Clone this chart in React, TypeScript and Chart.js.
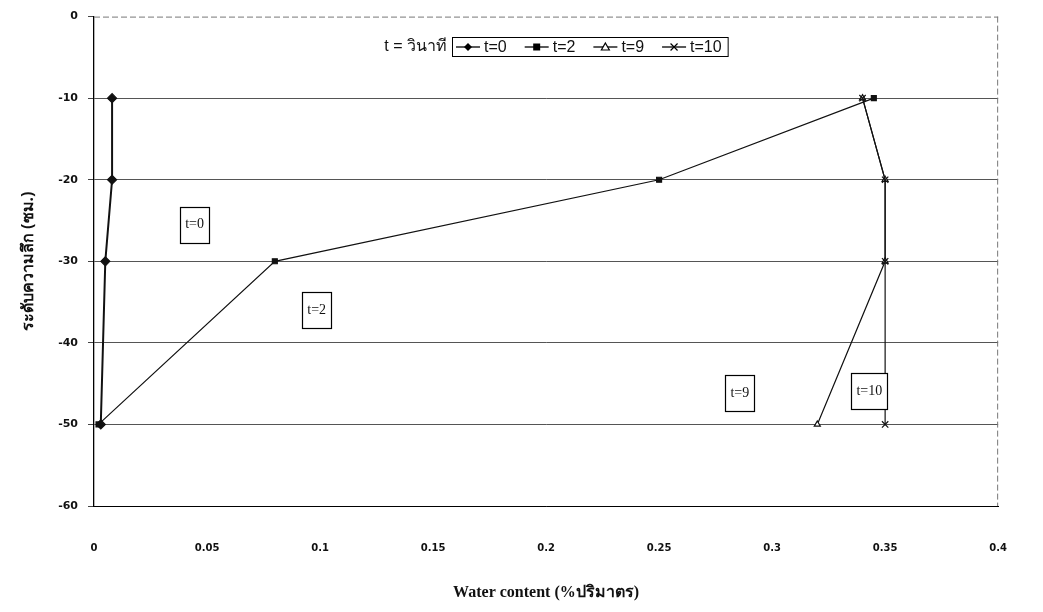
import React, { useEffect, useRef } from "react";
import { Chart, registerables } from "chart.js";

Chart.register(...registerables);

const depths = [-10, -20, -30, -50];
const seriesLabels = ["t=0", "t=2", "t=9", "t=10"];
const t0Values = [0.008, 0.008, 0.005, 0.003];
const t2Values = [0.345, 0.25, 0.08, 0.002];
const t9Values = [0.34, 0.35, 0.35, 0.32];
const t10Values = [0.34, 0.35, 0.35, 0.35];

const xTickValues = [0, 0.05, 0.1, 0.15, 0.2, 0.25, 0.3, 0.35, 0.4];
const yTickValues = [0, -10, -20, -30, -40, -50, -60];

const boxLabels = ["t=0", "t=2", "t=9", "t=10"];
const boxX = [0.0445, 0.0985, 0.2857, 0.343];
const boxY = [-25.5, -36, -46.2, -45.9];

const xTitle = "Water content (%ปริมาตร)";
const yTitle = "ระดับความลึก (ซม.)";
const legendCaption = "t = วินาที";

const pointStyles = ["rectRot", "rect", "triangle", "crossRot"];

function drawMarker(ctx: CanvasRenderingContext2D, style: string, x: number, y: number) {
  ctx.save();
  ctx.strokeStyle = "#000";
  ctx.fillStyle = "#000";
  ctx.lineWidth = 1.2;
  ctx.beginPath();
  if (style === "rectRot") {
    ctx.moveTo(x, y - 4);
    ctx.lineTo(x + 4, y);
    ctx.lineTo(x, y + 4);
    ctx.lineTo(x - 4, y);
    ctx.closePath();
    ctx.fill();
  } else if (style === "rect") {
    ctx.rect(x - 3.5, y - 3.5, 7, 7);
    ctx.fill();
  } else if (style === "triangle") {
    ctx.moveTo(x, y - 4);
    ctx.lineTo(x + 4, y + 3);
    ctx.lineTo(x - 4, y + 3);
    ctx.closePath();
    ctx.fillStyle = "#fff";
    ctx.fill();
    ctx.stroke();
  } else {
    ctx.moveTo(x - 3.5, y - 3.5);
    ctx.lineTo(x + 3.5, y + 3.5);
    ctx.moveTo(x + 3.5, y - 3.5);
    ctx.lineTo(x - 3.5, y + 3.5);
    ctx.stroke();
  }
  ctx.restore();
}

const decorPlugin = {
  id: "decor",
  beforeDatasetsDraw(chart: any) {
    const { ctx, chartArea } = chart;
    ctx.save();
    ctx.strokeStyle = "#777";
    ctx.lineWidth = 1;
    ctx.setLineDash([6, 3]);
    ctx.beginPath();
    ctx.moveTo(chartArea.left, chartArea.top + 0.5);
    ctx.lineTo(chartArea.right, chartArea.top + 0.5);
    ctx.moveTo(chartArea.right - 0.5, chartArea.top);
    ctx.lineTo(chartArea.right - 0.5, chartArea.bottom);
    ctx.stroke();
    ctx.restore();
  },
  afterDatasetsDraw(chart: any) {
    const { ctx } = chart;
    const xs = chart.scales.x;
    const ys = chart.scales.y;
    ctx.save();
    // annotation boxes
    ctx.font = "14px 'Liberation Serif', serif";
    ctx.textAlign = "center";
    ctx.textBaseline = "middle";
    boxLabels.forEach((lab, i) => {
      const cx = xs.getPixelForValue(boxX[i]);
      const cy = ys.getPixelForValue(boxY[i]);
      const w = ctx.measureText(lab).width + 10;
      const h = 36;
      ctx.fillStyle = "#fff";
      ctx.fillRect(cx - w / 2, cy - h / 2, w, h);
      ctx.strokeStyle = "#000";
      ctx.lineWidth = 1.2;
      ctx.strokeRect(Math.round(cx - w / 2) + 0.5, Math.round(cy - h / 2) + 0.5, Math.round(w), h);
      ctx.fillStyle = "#111";
      ctx.fillText(lab, cx, cy);
    });

    // legend
    ctx.font = "16px 'Liberation Sans', Arial, sans-serif";
    ctx.textAlign = "left";
    const lx = 452;
    const ly = 37;
    const lh = 19;
    let x = lx + 4;
    const cyL = ly + lh / 2 + 0.5;
    let lastTextEnd = x;
    const items = seriesLabels.map((lab, i) => {
      const start = x;
      const tx = start + 28;
      lastTextEnd = tx + ctx.measureText(lab).width;
      x = lastTextEnd + 18;
      return { start, tx, lab, style: pointStyles[i] };
    });
    const lw = lastTextEnd + 6 - lx;
    ctx.fillStyle = "#fff";
    ctx.fillRect(lx, ly, lw, lh);
    ctx.strokeStyle = "#000";
    ctx.lineWidth = 1;
    ctx.strokeRect(lx + 0.5, ly + 0.5, lw, lh);
    items.forEach((it) => {
      ctx.strokeStyle = "#000";
      ctx.lineWidth = 1.3;
      ctx.beginPath();
      ctx.moveTo(it.start, cyL);
      ctx.lineTo(it.start + 24, cyL);
      ctx.stroke();
      drawMarker(ctx, it.style, it.start + 12, cyL);
      ctx.fillStyle = "#111";
      ctx.textBaseline = "middle";
      ctx.fillText(it.lab, it.tx, cyL + 1);
    });
    ctx.font = "16px 'Liberation Sans', 'Noto Sans', 'DejaVu Sans', sans-serif";
    ctx.textAlign = "right";
    ctx.fillText(legendCaption, lx - 5, cyL);
    ctx.restore();
  },
};

function makeDataset(label: string, values: number[], idx: number, width: number, order: number) {
  return {
    label,
    order,
    data: values.map((v, i) => ({ x: v, y: depths[i] })),
    borderColor: "#111",
    backgroundColor: idx === 2 ? "#fff" : "#111",
    pointBorderColor: "#111",
    pointBackgroundColor: idx === 2 ? "#fff" : "#111",
    borderWidth: width,
    pointStyle: pointStyles[idx],
    pointRadius: idx === 1 ? 3.5 : idx === 2 ? 3.5 : 4.5,
    pointBorderWidth: 1.2,
    showLine: true,
    tension: 0,
  };
}

export default function App() {
  const ref = useRef<HTMLCanvasElement | null>(null);
  useEffect(() => {
    if (!ref.current) return;
    const chart = new Chart(ref.current, {
      type: "scatter",
      data: {
        datasets: [
          makeDataset(seriesLabels[0], t0Values, 0, 2, 4),
          makeDataset(seriesLabels[1], t2Values, 1, 1.2, 3),
          makeDataset(seriesLabels[2], t9Values, 2, 1.2, 2),
          makeDataset(seriesLabels[3], t10Values, 3, 1.2, 1),
        ],
      },
      options: {
        responsive: false,
        animation: false,
        devicePixelRatio: 1,
        layout: { padding: { left: 0, right: 21, top: 11, bottom: 0 } },
        plugins: {
          legend: { display: false },
          tooltip: { enabled: false },
        },
        scales: {
          x: {
            type: "linear",
            min: 0,
            max: 0.4,
            afterBuildTicks: (scale: any) => {
              scale.ticks = xTickValues.map((v) => ({ value: v }));
            },
            afterFit: (scale: any) => {
              scale.height = 106;
            },
            ticks: {
              padding: 36,
              color: "#111",
              font: { family: "'DejaVu Sans', sans-serif", size: 10, weight: "bold" },
              callback: (v: any) => String(Number(Number(v).toFixed(2))),
            },
            grid: { display: false, drawTicks: false },
            border: { display: true, color: "#000", width: 1 },
            title: {
              display: true,
              text: xTitle,
              color: "#111",
              font: { family: "'Liberation Serif', 'Noto Sans', serif", size: 16, weight: "bold" },
              padding: { top: 4, bottom: 10 },
            },
          },
          y: {
            type: "linear",
            min: -60,
            max: 0,
            afterBuildTicks: (scale: any) => {
              scale.ticks = yTickValues.map((v) => ({ value: v }));
            },
            afterFit: (scale: any) => {
              scale.width = 94;
            },
            ticks: {
              padding: 10,
              color: "#111",
              font: { family: "'DejaVu Sans', sans-serif", size: 11, weight: "bold" },
              callback: (v: any) => String(v),
            },
            grid: {
              color: (c: any) => (c.tick && c.tick.value === 0 ? "rgba(0,0,0,0)" : "#555"),
              tickColor: "#444",
              tickLength: 6,
              lineWidth: 1,
            },
            border: { display: true, color: "#000", width: 1.3 },
            title: {
              display: true,
              text: yTitle,
              color: "#111",
              font: { family: "'Noto Sans', 'DejaVu Sans', sans-serif", size: 16, weight: "bold" },
              padding: { top: 19, bottom: 4 },
            },
          },
        },
      },
      plugins: [decorPlugin],
    } as any);
    return () => chart.destroy();
  }, []);
  return (
    <div style={{ position: "absolute", left: 0, top: 0, width: 1043, height: 612, background: "#fff" }}>
      <canvas ref={ref} width={1043} height={612} style={{ display: "block" }} />
    </div>
  );
}
